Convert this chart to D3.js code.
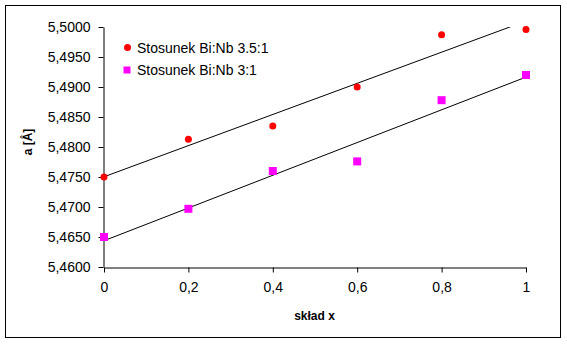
<!DOCTYPE html>
<html>
<head>
<meta charset="utf-8">
<script src="https://cdn.jsdelivr.net/npm/d3@7"></script>
<style>
  html, body { margin: 0; padding: 0; background: #fff; }
  svg { display: block; font-family: "Liberation Sans", Arial, sans-serif; }
</style>
</head>
<body>
<svg id="chart" width="567" height="344"></svg>
<script>
// Composition x and lattice parameter a [Å] for two Bi:Nb ratios
const compositionX = [0, 0.2, 0.4, 0.6, 0.8, 1.0];
const ratio35 = [5.4750, 5.4813, 5.4835, 5.4900, 5.4987, 5.4996];
const ratio3 = [5.4650, 5.4697, 5.4760, 5.4776, 5.4878, 5.4920];
const seriesNames = ["Stosunek Bi:Nb 3.5:1", "Stosunek Bi:Nb 3:1"];
const xTicks = [0, 0.2, 0.4, 0.6, 0.8, 1];
const yTicks = [5.46, 5.465, 5.47, 5.475, 5.48, 5.485, 5.49, 5.495, 5.5];

const svg = d3.select("#chart");
const fmtY = v => d3.format(".4f")(v).replace(".", ",");
const fmtX = v => String(v).replace(".", ",");

// Outer frame
svg.append("rect").attr("x", 5.5).attr("y", 5.5).attr("width", 555).attr("height", 332)
  .attr("fill", "#fff").attr("stroke", "#000").attr("stroke-width", 1);

const x = d3.scaleLinear().domain([0, 1]).range([104, 526]);
const y = d3.scaleLinear().domain([5.46, 5.5]).range([267, 27]);

// Axes
const xAxis = svg.append("g").attr("transform", "translate(0,267.5)")
  .call(d3.axisBottom(x).tickValues(xTicks).tickFormat(fmtX).tickSize(5).tickSizeOuter(0));
const yAxis = svg.append("g").attr("transform", "translate(103.5,0)")
  .call(d3.axisLeft(y).tickValues(yTicks).tickFormat(fmtY).tickSize(5).tickSizeOuter(0));
[xAxis, yAxis].forEach(g => {
  g.selectAll("path, line").attr("stroke", "#000");
  g.selectAll("text").attr("fill", "#000").style("font-size", "14px")
    .style("font-family", "'Liberation Sans', Arial, sans-serif");
});
xAxis.selectAll("text").attr("dy", "1.2em");
yAxis.selectAll("text").attr("x", -13);

// Least-squares trend lines
function fit(xs, ys) {
  const mx = d3.mean(xs), my = d3.mean(ys);
  const b = d3.sum(xs, (v, i) => (v - mx) * (ys[i] - my)) / d3.sum(xs, v => (v - mx) ** 2);
  return { a: my - b * mx, b };
}
svg.append("clipPath").attr("id", "plot").append("rect")
  .attr("x", 104).attr("y", 27).attr("width", 423).attr("height", 240);
const line = d3.line().x(d => x(d[0])).y(d => y(d[1]));
[ratio35, ratio3].forEach(ys => {
  const f = fit(compositionX, ys);
  const pts = [[0, f.a], [1, f.a + f.b]];
  svg.append("path").attr("d", line(pts)).attr("fill", "none")
    .attr("stroke", "#000").attr("stroke-width", 1).attr("clip-path", "url(#plot)");
});

// Markers
svg.append("g").selectAll("circle").data(compositionX).join("circle")
  .attr("cx", (d) => x(d)).attr("cy", (d, i) => y(ratio35[i])).attr("r", 3.5).attr("fill", "#ff0000");
svg.append("g").selectAll("rect").data(compositionX).join("rect")
  .attr("x", d => x(d) - 4).attr("y", (d, i) => y(ratio3[i]) - 4)
  .attr("width", 8).attr("height", 8).attr("fill", "#ff00ff");

// Legend
const leg = svg.append("g");
leg.append("circle").attr("cx", 127.5).attr("cy", 47.5).attr("r", 3.5).attr("fill", "#ff0000");
leg.append("rect").attr("x", 123.5).attr("y", 66.5).attr("width", 7).attr("height", 7).attr("fill", "#ff00ff");
seriesNames.forEach((n, i) => {
  leg.append("text").attr("x", 137).attr("y", 52.5 + i * 22).text(n)
    .style("font-size", "14px").attr("fill", "#000");
});

// Axis titles
svg.append("text").attr("x", 314.5).attr("y", 320).attr("text-anchor", "middle")
  .style("font-size", "12px").style("font-weight", "bold").text("skład x");
svg.append("text").attr("transform", "translate(32,142) rotate(-90)").attr("text-anchor", "middle")
  .style("font-size", "12px").style("font-weight", "bold").text("a [Å]");
</script>
</body>
</html>
